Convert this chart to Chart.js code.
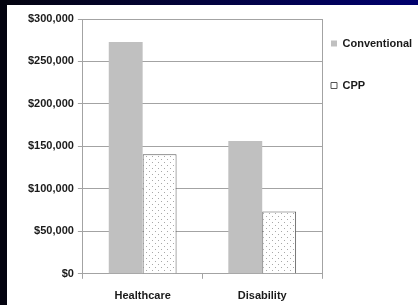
<!DOCTYPE html>
<html>
<head>
<meta charset="utf-8">
<script src="https://cdn.jsdelivr.net/npm/chart.js@4"></script>
<style>
  html, body { margin: 0; padding: 0; }
  body {
    width: 418px; height: 305px; overflow: hidden; position: relative;
    background: linear-gradient(to right, #04040f, #00006e);
  }
  #side { position: absolute; left: 0; top: 0; width: 7px; height: 305px; background: #03030f; }
  #wrap { position: absolute; left: 7px; top: 5px; width: 411px; height: 300px; background: #fff; }
</style>
</head>
<body>
<div id="side"></div>
<div id="wrap"><canvas id="chart" width="411" height="300"></canvas></div>
<script>
const categories = ["Healthcare", "Disability"];
const seriesNames = ["Conventional", "CPP"];
const conventional = [273000, 156500];
const cpp = [140700, 73300];
const yTickLabels = ["$0", "$50,000", "$100,000", "$150,000", "$200,000", "$250,000", "$300,000"];

// dotted fill like the old office pattern
function dotPattern() {
  const c = document.createElement("canvas");
  c.width = 6;
  c.height = 6;
  const g = c.getContext("2d");
  g.fillStyle = "#ffffff";
  g.fillRect(0, 0, 6, 6);
  g.fillStyle = "#a8a8a8";
  g.fillRect(1, 1, 1, 1);
  g.fillRect(4, 4, 1, 1);
  return g.createPattern(c, "repeat");
}

const font = { family: "'Liberation Sans', Arial, sans-serif", size: 11, weight: "bold" };
const gridGray = "#a3a3a3";

new Chart(document.getElementById("chart"), {
  type: "bar",
  data: {
    labels: categories,
    datasets: [
      {
        label: seriesNames[0],
        data: conventional,
        backgroundColor: "#c0c0c0",
        borderWidth: 0,
      },
      {
        label: seriesNames[1],
        data: cpp,
        backgroundColor: dotPattern(),
        borderColor: "#555555",
        borderWidth: 1,
      },
    ],
  },
  options: {
    responsive: false,
    animation: false,
    events: [],
    layout: { padding: { top: 14, left: 17, right: 0, bottom: -9 } },
    datasets: {
      bar: { barPercentage: 1, categoryPercentage: 0.567 },
    },
    plugins: {
      tooltip: { enabled: false },
      legend: {
        position: "right",
        align: "start",
        maxWidth: 96,
        title: { display: true, text: "", font: { size: 11, lineHeight: "10px" }, padding: 0 },
        labels: {
          color: "#1a1a1a",
          font: { ...font, lineHeight: 3 },
          boxWidth: 6,
          boxHeight: 6,
          padding: 9,
          generateLabels(chart) {
            const items = Chart.defaults.plugins.legend.labels.generateLabels(chart);
            items.forEach((it, i) => {
              it.text = [it.text];
              it.lineWidth = i === 1 ? 1 : 0;
              it.strokeStyle = "#555555";
              it.fillStyle = i === 1 ? "#ffffff" : "#c0c0c0";
            });
            return items;
          },
        },
      },
    },
    scales: {
      x: {
        offset: true,
        grid: { offset: true, drawOnChartArea: false, color: gridGray, tickLength: 5 },
        border: { display: true, color: gridGray },
        ticks: { color: "#1a1a1a", font, padding: 11 },
      },
      y: {
        min: 0,
        max: 300000,
        ticks: {
          stepSize: 50000,
          color: "#1a1a1a",
          font,
          padding: 4,
          callback: (v, i) => yTickLabels[i],
        },
        grid: { color: gridGray, tickLength: 5 },
        border: { display: true, color: gridGray },
      },
      y2: {
        position: "right",
        ticks: { display: false },
        grid: { drawOnChartArea: false, drawTicks: false },
        border: { display: true, color: gridGray },
      },
    },
  },
});
</script>
</body>
</html>
